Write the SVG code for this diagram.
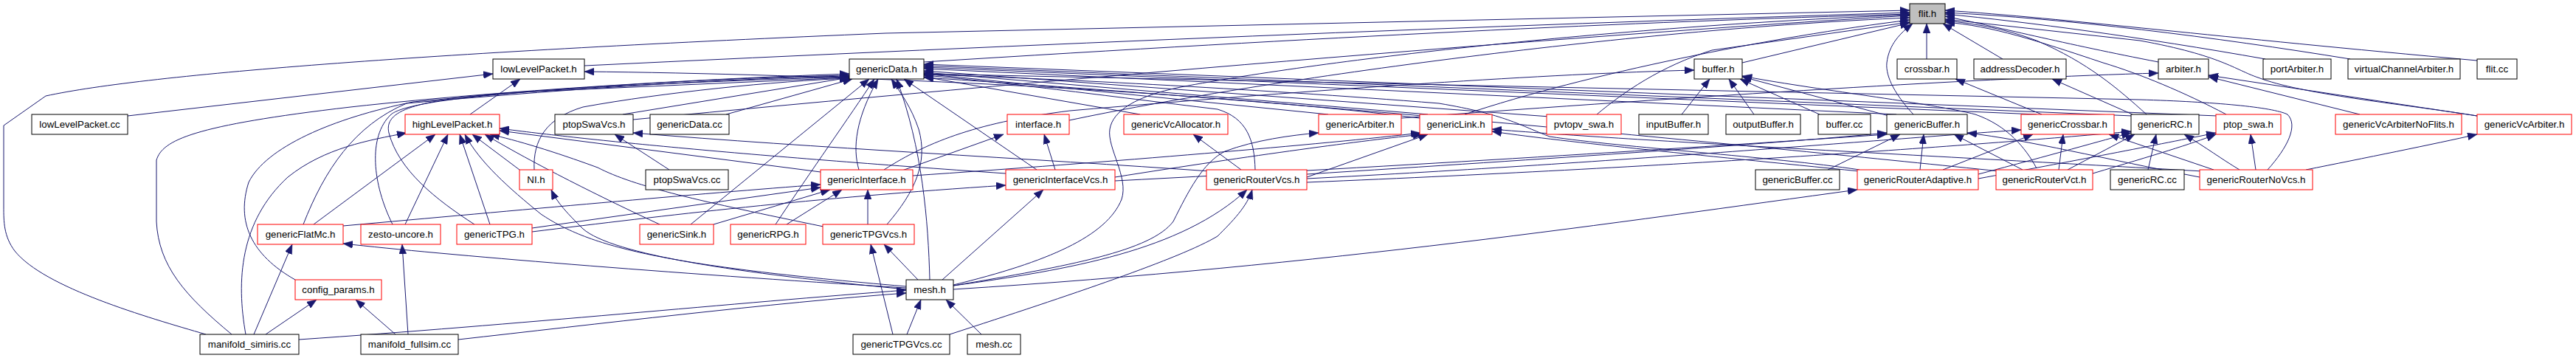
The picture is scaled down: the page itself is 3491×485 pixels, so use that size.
<svg xmlns="http://www.w3.org/2000/svg" width="3491" height="485" viewBox="0 0 3491 485">
<style>
.node rect{fill:#fff;stroke:#000;stroke-width:1}
.node.red rect{stroke:#f00}
.node.root rect{fill:#bfbfbf}
.node text{font-family:"Liberation Sans",Arial,sans-serif;font-size:13.3px;fill:#000;text-anchor:middle}
#edges path{fill:none;stroke:#191970;stroke-width:1;marker-end:url(#ah)}
</style>
<defs>
<marker id="ah" markerWidth="13" markerHeight="10" refX="13" refY="5" orient="auto" markerUnits="userSpaceOnUse"><path d="M0,0 L13,5 L0,10 z" fill="#191970" stroke="#191970" stroke-width="0.5"/></marker>
</defs>
<rect width="3491" height="485" fill="#fff"/>
<g id="edges">
<path d="M279,453 C200,430 60,390 20,340 C5,320 5,300 5,280 L5,170 L62,130 C200,100 600,70 1200,45 L2588,14"/>
<path d="M792,89 C1400,60 2000,35 2588,17"/>
<path d="M1252,84 C1800,50 2200,30 2588,19"/>
<path d="M1449,163 C1700,110 2200,40 2588,24"/>
<path d="M1985,155 C2150,100 2400,50 2588,27"/>
<path d="M858,162 C1400,110 2100,50 2588,21"/>
<path d="M1292,386 C1420,355 1500,320 1520,270 C1530,240 1500,200 1504,175 C1508,150 1540,130 1600,118 C1800,80 2200,35 2588,20"/>
<path d="M2164,155 C2200,125 2250,90 2320,68 L2588,30"/>
<path d="M2361,85 L2588,31"/>
<path d="M2611,80 L2611,32"/>
<path d="M2593,155 C2570,130 2555,105 2557,85 C2560,60 2575,45 2592,32"/>
<path d="M2714,80 L2633,32"/>
<path d="M2909,155 C2870,120 2830,85 2760,55 C2720,40 2680,32 2636,28"/>
<path d="M2925,84 C2800,60 2700,35 2636,22"/>
<path d="M3070,80 C2900,50 2750,30 2636,19"/>
<path d="M3185,80 C3000,50 2800,25 2636,17"/>
<path d="M3357,82 C3000,50 2800,25 2636,14"/>
<path d="M3357,157 C3250,140 3120,128 3060,105 C3030,95 3010,75 2900,55 L2636,26"/>
<path d="M3017,155 C2960,125 2900,100 2850,85 C2760,55 2700,35 2636,30"/>
<path d="M173,157 L668,100"/>
<path d="M637,155 L705,107"/>
<path d="M1924,160 C1600,120 1100,100 792,97"/>
<path d="M314,453 C250,400 215,360 212,300 L212,217 C220,190 260,170 475,145 C700,120 1000,105 1151,100"/>
<path d="M400,379 C340,345 320,300 337,247 C360,200 450,160 560,138 C800,115 1000,105 1151,102"/>
<path d="M411,304 C440,230 480,170 551,140 C800,118 1000,106 1151,103"/>
<path d="M532,304 C505,250 498,185 530,155 C560,130 800,115 1151,104"/>
<path d="M643,304 C590,270 540,230 527,180 C520,150 560,135 700,125 L1151,105"/>
<path d="M844,155 L1151,105"/>
<path d="M984,155 L1155,107"/>
<path d="M724,230 C722,190 740,160 790,145 C900,125 1050,110 1151,106"/>
<path d="M936,304 L1178,107"/>
<path d="M1051,304 C1100,230 1150,160 1185,107"/>
<path d="M1164,230 C1155,200 1160,160 1190,107"/>
<path d="M1202,304 C1240,260 1258,220 1245,175 C1235,145 1220,125 1208,107"/>
<path d="M1260,379 C1258,300 1250,200 1215,107"/>
<path d="M1405,230 L1225,107"/>
<path d="M1545,155 L1252,104"/>
<path d="M1701,230 C1700,190 1690,160 1650,148 C1500,130 1350,110 1252,102"/>
<path d="M1800,155 L1252,100"/>
<path d="M1935,155 L1252,98"/>
<path d="M2100,158 L1252,96"/>
<path d="M2570,155 L1252,93"/>
<path d="M2760,155 L1252,91"/>
<path d="M2890,157 L1252,89"/>
<path d="M3005,157 L1252,87"/>
<path d="M3073,230 C3100,200 3115,170 3100,155 C3080,145 3000,138 2900,135 L1252,100"/>
<path d="M2520,230 C2400,212 2200,200 2100,185 C2060,170 2040,155 1950,140 C1700,120 1400,105 1252,101"/>
<path d="M2710,232 C2400,200 1800,140 1252,105"/>
<path d="M333,453 C320,380 325,300 390,240 C440,200 500,190 551,180"/>
<path d="M425,304 L590,182"/>
<path d="M549,304 L607,182"/>
<path d="M664,304 L623,182"/>
<path d="M704,230 L640,182"/>
<path d="M894,304 C820,270 720,220 657,182"/>
<path d="M1116,307 C950,273 860,253 810,227 C750,205 700,190 664,182"/>
<path d="M1228,388 C900,360 800,335 733,290 C690,255 650,220 630,182"/>
<path d="M1112,233 L677,177"/>
<path d="M1363,235 C1000,210 800,190 677,174"/>
<path d="M344,453 L396,331"/>
<path d="M1228,390 C900,370 600,345 465,330"/>
<path d="M360,453 L429,406"/>
<path d="M536,453 L482,406"/>
<path d="M553,453 L545,331"/>
<path d="M405,460 C700,440 1000,410 1228,393"/>
<path d="M621,460 C800,440 1050,410 1228,397"/>
<path d="M1229,453 L1248,406"/>
<path d="M1330,453 L1282,406"/>
<path d="M1228,392 C1000,370 830,345 790,310 C770,290 755,275 747,257"/>
<path d="M907,230 L833,182"/>
<path d="M1640,232 C1400,215 1100,200 858,180"/>
<path d="M465,306 C700,285 950,262 1112,250"/>
<path d="M721,309 L1112,254"/>
<path d="M721,314 C900,292 1100,268 1363,251"/>
<path d="M967,304 L1125,257"/>
<path d="M1066,304 L1141,257"/>
<path d="M1176,304 L1176,257"/>
<path d="M1217,233 L1360,182"/>
<path d="M1430,230 L1415,182"/>
<path d="M1198,230 C1260,190 1330,165 1450,150 C1800,120 2100,100 2296,95"/>
<path d="M1682,230 L1617,182"/>
<path d="M1292,387 C1450,360 1560,340 1590,300 C1610,260 1630,220 1660,205 C1700,190 1750,183 1787,180"/>
<path d="M1511,240 C1700,210 1850,190 1928,182"/>
<path d="M1771,240 L1935,182"/>
<path d="M1237,238 C1500,220 1800,195 1925,180"/>
<path d="M2520,232 C2300,210 2100,190 2022,178"/>
<path d="M2985,232 C2600,210 2200,190 2022,175"/>
<path d="M1277,379 L1414,257"/>
<path d="M1292,387 C1450,365 1600,340 1690,257"/>
<path d="M1287,453 C1450,400 1600,350 1650,320 C1670,300 1690,280 1697,257"/>
<path d="M1210,453 L1180,331"/>
<path d="M1244,379 L1198,331"/>
<path d="M1292,392 C1800,360 2200,300 2517,257"/>
<path d="M2279,155 L2317,107"/>
<path d="M2377,155 L2343,107"/>
<path d="M2466,155 L2358,107"/>
<path d="M2560,157 L2361,104"/>
<path d="M2760,228 C2745,200 2720,170 2677,155 C2620,140 2450,120 2361,103"/>
<path d="M2767,155 L2650,107"/>
<path d="M2890,155 L2781,107"/>
<path d="M1899,160 C2300,130 2700,105 2925,99"/>
<path d="M3198,155 L2993,104"/>
<path d="M3357,157 L2993,102"/>
<path d="M2477,230 L2575,182"/>
<path d="M2602,230 L2607,182"/>
<path d="M2741,230 L2648,182"/>
<path d="M1771,236 C2100,215 2400,195 2557,180"/>
<path d="M2981,240 C2850,215 2750,190 2666,180"/>
<path d="M1511,245 C1900,225 2300,200 2557,182"/>
<path d="M2633,230 L2755,182"/>
<path d="M2790,230 L2796,182"/>
<path d="M3000,230 L2858,182"/>
<path d="M1771,242 C2200,220 2600,185 2739,176"/>
<path d="M2911,230 L2922,182"/>
<path d="M3035,230 C3010,215 2990,200 2960,182"/>
<path d="M2802,230 L2893,182"/>
<path d="M2681,236 C2780,210 2850,190 2888,180"/>
<path d="M1771,247 C2300,225 2700,195 2888,178"/>
<path d="M3057,230 L3050,182"/>
<path d="M2836,235 C2920,210 2970,195 3003,182"/>
<path d="M2681,242 C2800,220 2930,195 3003,180"/>
<path d="M3125,230 C3200,215 3300,195 3357,182"/>
</g>
<g id="flit_h" class="node root"><rect x="2588" y="5" width="48" height="27"/><text x="2612" y="23">flit.h</text></g>
<g id="lowLevelPacket_h" class="node"><rect x="668" y="80" width="124" height="27"/><text x="730" y="98">lowLevelPacket.h</text></g>
<g id="genericData_h" class="node"><rect x="1151" y="80" width="101" height="27"/><text x="1201.5" y="98">genericData.h</text></g>
<g id="buffer_h" class="node"><rect x="2296" y="80" width="65" height="27"/><text x="2328.5" y="98">buffer.h</text></g>
<g id="crossbar_h" class="node"><rect x="2571" y="80" width="81" height="27"/><text x="2611.5" y="98">crossbar.h</text></g>
<g id="addressDecoder_h" class="node"><rect x="2675" y="80" width="125" height="27"/><text x="2737.5" y="98">addressDecoder.h</text></g>
<g id="arbiter_h" class="node"><rect x="2925" y="80" width="68" height="27"/><text x="2959" y="98">arbiter.h</text></g>
<g id="portArbiter_h" class="node"><rect x="3067" y="80" width="92" height="27"/><text x="3113" y="98">portArbiter.h</text></g>
<g id="virtualChannelArbiter_h" class="node"><rect x="3182" y="80" width="152" height="27"/><text x="3258" y="98">virtualChannelArbiter.h</text></g>
<g id="flit_cc" class="node"><rect x="3357" y="80" width="54" height="27"/><text x="3384" y="98">flit.cc</text></g>
<g id="lowLevelPacket_cc" class="node"><rect x="43" y="155" width="130" height="27"/><text x="108" y="173">lowLevelPacket.cc</text></g>
<g id="highLevelPacket_h" class="node red"><rect x="549" y="155" width="128" height="27"/><text x="613" y="173">highLevelPacket.h</text></g>
<g id="ptopSwaVcs_h" class="node"><rect x="752" y="155" width="106" height="27"/><text x="805" y="173">ptopSwaVcs.h</text></g>
<g id="genericData_cc" class="node"><rect x="881" y="155" width="107" height="27"/><text x="934.5" y="173">genericData.cc</text></g>
<g id="interface_h" class="node red"><rect x="1365" y="155" width="84" height="27"/><text x="1407" y="173">interface.h</text></g>
<g id="genericVcAllocator_h" class="node red"><rect x="1523" y="155" width="141" height="27"/><text x="1593.5" y="173">genericVcAllocator.h</text></g>
<g id="genericArbiter_h" class="node red"><rect x="1787" y="155" width="112" height="27"/><text x="1843" y="173">genericArbiter.h</text></g>
<g id="genericLink_h" class="node red"><rect x="1924" y="155" width="98" height="27"/><text x="1973" y="173">genericLink.h</text></g>
<g id="pvtopv_swa_h" class="node red"><rect x="2096" y="155" width="101" height="27"/><text x="2146.5" y="173">pvtopv_swa.h</text></g>
<g id="inputBuffer_h" class="node"><rect x="2221" y="155" width="94" height="27"/><text x="2268" y="173">inputBuffer.h</text></g>
<g id="outputBuffer_h" class="node"><rect x="2339" y="155" width="101" height="27"/><text x="2389.5" y="173">outputBuffer.h</text></g>
<g id="buffer_cc" class="node"><rect x="2464" y="155" width="71" height="27"/><text x="2499.5" y="173">buffer.cc</text></g>
<g id="genericBuffer_h" class="node"><rect x="2557" y="155" width="109" height="27"/><text x="2611.5" y="173">genericBuffer.h</text></g>
<g id="genericCrossbar_h" class="node red"><rect x="2739" y="155" width="126" height="27"/><text x="2802" y="173">genericCrossbar.h</text></g>
<g id="genericRC_h" class="node"><rect x="2888" y="155" width="92" height="27"/><text x="2934" y="173">genericRC.h</text></g>
<g id="ptop_swa_h" class="node red"><rect x="3003" y="155" width="88" height="27"/><text x="3047" y="173">ptop_swa.h</text></g>
<g id="genericVcArbiterNoFlits_h" class="node red"><rect x="3165" y="155" width="171" height="27"/><text x="3250.5" y="173">genericVcArbiterNoFlits.h</text></g>
<g id="genericVcArbiter_h" class="node red"><rect x="3357" y="155" width="128" height="27"/><text x="3421" y="173">genericVcArbiter.h</text></g>
<g id="NI_h" class="node red"><rect x="704" y="230" width="45" height="27"/><text x="726.5" y="248">NI.h</text></g>
<g id="ptopSwaVcs_cc" class="node"><rect x="875" y="230" width="112" height="27"/><text x="931" y="248">ptopSwaVcs.cc</text></g>
<g id="genericInterface_h" class="node red"><rect x="1112" y="230" width="125" height="27"/><text x="1174.5" y="248">genericInterface.h</text></g>
<g id="genericInterfaceVcs_h" class="node red"><rect x="1363" y="230" width="148" height="27"/><text x="1437" y="248">genericInterfaceVcs.h</text></g>
<g id="genericRouterVcs_h" class="node red"><rect x="1635" y="230" width="136" height="27"/><text x="1703" y="248">genericRouterVcs.h</text></g>
<g id="genericBuffer_cc" class="node"><rect x="2379" y="230" width="114" height="27"/><text x="2436" y="248">genericBuffer.cc</text></g>
<g id="genericRouterAdaptive_h" class="node red"><rect x="2517" y="230" width="164" height="27"/><text x="2599" y="248">genericRouterAdaptive.h</text></g>
<g id="genericRouterVct_h" class="node red"><rect x="2705" y="230" width="131" height="27"/><text x="2770.5" y="248">genericRouterVct.h</text></g>
<g id="genericRC_cc" class="node"><rect x="2860" y="230" width="100" height="27"/><text x="2910" y="248">genericRC.cc</text></g>
<g id="genericRouterNoVcs_h" class="node red"><rect x="2981" y="230" width="153" height="27"/><text x="3057.5" y="248">genericRouterNoVcs.h</text></g>
<g id="genericFlatMc_h" class="node red"><rect x="349" y="304" width="116" height="27"/><text x="407" y="322">genericFlatMc.h</text></g>
<g id="zesto_uncore_h" class="node red"><rect x="489" y="304" width="108" height="27"/><text x="543" y="322">zesto-uncore.h</text></g>
<g id="genericTPG_h" class="node red"><rect x="619" y="304" width="102" height="27"/><text x="670" y="322">genericTPG.h</text></g>
<g id="genericSink_h" class="node red"><rect x="867" y="304" width="100" height="27"/><text x="917" y="322">genericSink.h</text></g>
<g id="genericRPG_h" class="node red"><rect x="990" y="304" width="102" height="27"/><text x="1041" y="322">genericRPG.h</text></g>
<g id="genericTPGVcs_h" class="node red"><rect x="1115" y="304" width="124" height="27"/><text x="1177" y="322">genericTPGVcs.h</text></g>
<g id="config_params_h" class="node red"><rect x="400" y="379" width="117" height="27"/><text x="458.5" y="397">config_params.h</text></g>
<g id="mesh_h" class="node"><rect x="1228" y="379" width="64" height="27"/><text x="1260" y="397">mesh.h</text></g>
<g id="manifold_simiris_cc" class="node"><rect x="271" y="453" width="134" height="27"/><text x="338" y="471">manifold_simiris.cc</text></g>
<g id="manifold_fullsim_cc" class="node"><rect x="489" y="453" width="132" height="27"/><text x="555" y="471">manifold_fullsim.cc</text></g>
<g id="genericTPGVcs_cc" class="node"><rect x="1156" y="453" width="131" height="27"/><text x="1221.5" y="471">genericTPGVcs.cc</text></g>
<g id="mesh_cc" class="node"><rect x="1311" y="453" width="72" height="27"/><text x="1347" y="471">mesh.cc</text></g>
</svg>
